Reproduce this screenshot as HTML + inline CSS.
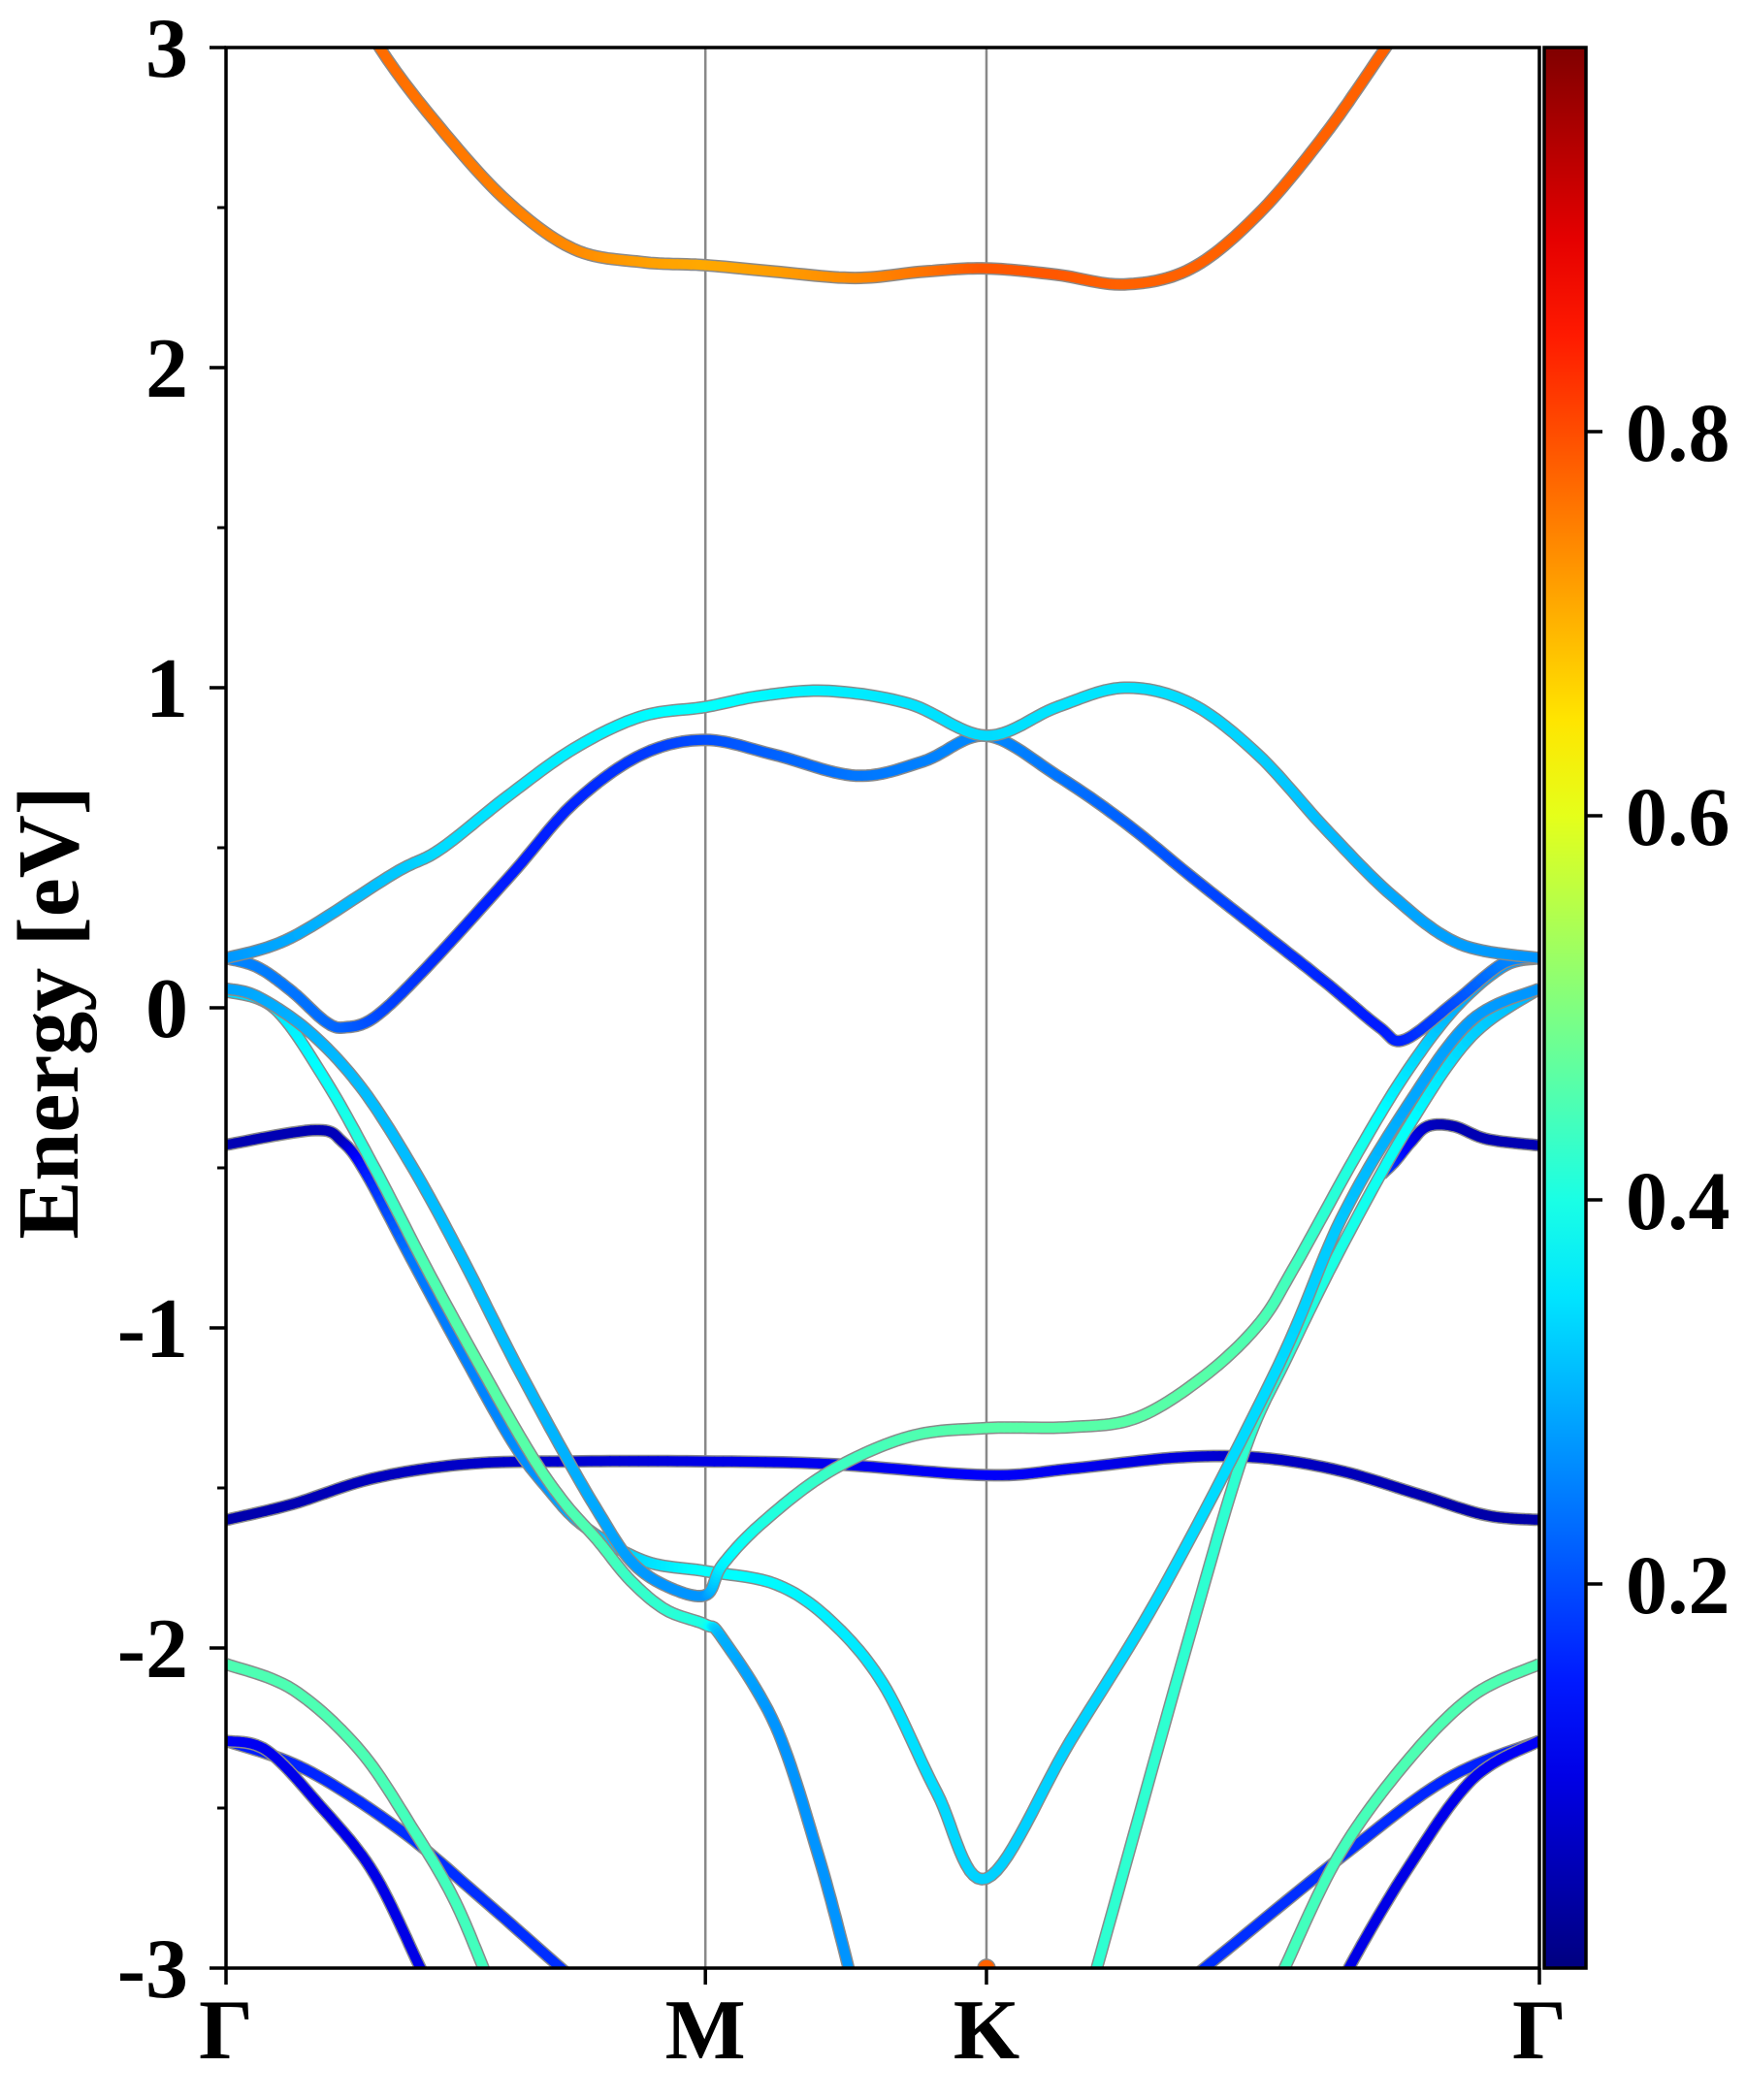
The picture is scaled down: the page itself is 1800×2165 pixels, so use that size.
<!DOCTYPE html>
<html><head><meta charset="utf-8"><style>
html,body{margin:0;padding:0;background:#fff}
svg text{font-family:"Liberation Serif",serif;font-weight:bold}
</style></head><body>
<svg id="chart" width="1800" height="2160" viewBox="0 0 1800 2160" xmlns="http://www.w3.org/2000/svg">
<defs>
<clipPath id="plotclip"><rect x="233" y="49" width="1354" height="1980"/></clipPath>
<linearGradient id="jetgrad" x1="0" y1="1" x2="0" y2="0"></linearGradient>
</defs>
<g id="bands" clip-path="url(#plotclip)"></g>
<g id="axes"></g>
</svg>
<script>
// k positions in percent of path length; energies in eV; weights 0..1
const kLabels = ["Γ","M","K","Γ"];
const kTicks = [0, 36.5, 57.9, 100];
const yTicks = [-3,-2,-1,0,1,2,3];
const cbTicks = [0.2,0.4,0.6,0.8];

const bandA_k = [8.2,11.7,16.3,21.4,26.5,31.6,36.5,41.8,47.9,53.1,57.9,63.3,68.4,73.5,78.6,83.7,88.3,91.8];
const bandA_E = [3.27,3.0,2.75,2.52,2.37,2.33,2.32,2.30,2.28,2.30,2.31,2.29,2.26,2.31,2.48,2.73,3.0,3.21];
const bandA_w = [0.77,0.77,0.76,0.75,0.74,0.72,0.71,0.72,0.74,0.76,0.79,0.79,0.78,0.78,0.78,0.78,0.78,0.78];

const bandB1_k = [0,5,12.8,16.3,21.4,26.5,31.6,36.5,40.8,45.9,52,57.9,63.3,68.4,73.5,78.6,83.7,88.8,93.9,100];
const bandB1_E = [0.155,0.22,0.42,0.495,0.66,0.81,0.91,0.94,0.975,0.99,0.95,0.85,0.94,1.0,0.95,0.79,0.56,0.35,0.20,0.155];
const bandB1_w = [0.27,0.29,0.32,0.34,0.35,0.36,0.37,0.38,0.37,0.36,0.35,0.34,0.35,0.35,0.34,0.33,0.31,0.29,0.28,0.27];

const bandB2_k = [0,2.4,5,7.6,9.1,11.4,15.3,21.8,26.5,31.6,36.5,41.8,48,53.1,57.9,63.3,68.4,73.5,78.6,83.7,87.8,89.7,93.6,97.3,100];
const bandB2_E = [0.155,0.127,0.052,-0.044,-0.061,-0.027,0.127,0.42,0.64,0.79,0.837,0.79,0.725,0.77,0.85,0.725,0.58,0.41,0.245,0.08,-0.06,-0.10,0.02,0.14,0.155];
const bandB2_w = [0.26,0.25,0.24,0.23,0.22,0.2,0.17,0.15,0.16,0.18,0.2,0.22,0.24,0.25,0.26,0.24,0.22,0.2,0.18,0.16,0.15,0.16,0.2,0.25,0.27];

const bandC1_k = [0,2.4,6.3,10.2,14.1,18,21.8,25.7,28.3,30.8,33.5,36.5,37.8,40.8,45.9,52,57.9,64.3,69.4,74.5,78.6,81.2,86.2,89.9,93.6,97.3,100];
const bandC1_E = [0.06,0.035,-0.073,-0.244,-0.491,-0.783,-1.092,-1.388,-1.572,-1.727,-1.806,-1.835,-1.74,-1.61,-1.45,-1.34,-1.313,-1.31,-1.28,-1.15,-0.99,-0.82,-0.45,-0.20,0.0,0.13,0.155];
const bandC1_w = [0.28,0.29,0.3,0.31,0.31,0.31,0.31,0.3,0.29,0.28,0.27,0.27,0.36,0.4,0.43,0.45,0.46,0.46,0.46,0.46,0.45,0.44,0.4,0.35,0.3,0.28,0.27];

const bandC2_k = [0,3.7,7.6,11.4,15.3,19.2,23.1,25.7,28.3,30.8,33.5,36.5,37.8,41.8,44.9,47.4,49];
const bandC2_E = [0.052,-0.002,-0.228,-0.507,-0.816,-1.109,-1.388,-1.543,-1.664,-1.789,-1.881,-1.927,-1.97,-2.24,-2.62,-3.0,-3.3];
const bandC2_w = [0.33,0.35,0.38,0.42,0.45,0.46,0.46,0.45,0.45,0.43,0.42,0.4,0.3,0.27,0.27,0.27,0.27];

const bandD_k = [0,6.8,8.9,10.7,14.1,18,21.8,24.4,27.2,31.8,36.5,41.8,45.9,50,54.1,57.9,64.3,71.4,80.1,84.9,89.9,94.8,100];
const bandD_E = [-0.428,-0.382,-0.42,-0.52,-0.783,-1.079,-1.355,-1.497,-1.618,-1.727,-1.76,-1.80,-1.91,-2.11,-2.45,-2.72,-2.29,-1.81,-1.12,-0.66,-0.31,-0.04,0.06];
const bandD_w = [0.05,0.05,0.06,0.15,0.24,0.25,0.26,0.27,0.3,0.34,0.38,0.37,0.36,0.35,0.34,0.33,0.33,0.34,0.34,0.32,0.29,0.28,0.27];

const bandD2_k = [100,96,93.5,91.5,90.2,89.0,88.0];
const bandD2_E = [-0.43,-0.41,-0.37,-0.37,-0.42,-0.48,-0.52];
const bandD2_w = [0.05,0.05,0.05,0.06,0.1,0.15,0.2];

const bandLb_k = [64,66.3,73.1,77.5,80.8,84.9,89.9,94.8,100];
const bandLb_E = [-3.33,-3.0,-2.0,-1.39,-1.09,-0.75,-0.38,-0.09,0.06];
const bandLb_w = [0.42,0.42,0.42,0.42,0.41,0.4,0.38,0.33,0.3];

const bandF_k = [0,5.1,11.2,18.4,26.5,36.5,45.9,57.9,64.3,72.4,78.6,84.7,90.8,95.9,100];
const bandF_E = [-1.60,-1.55,-1.47,-1.425,-1.417,-1.417,-1.425,-1.46,-1.44,-1.405,-1.405,-1.445,-1.52,-1.585,-1.60];
const bandF_w = [0.04,0.05,0.06,0.07,0.08,0.1,0.11,0.12,0.11,0.09,0.07,0.06,0.05,0.04,0.04];

const bandG1L_k = [0,5.1,10.2,14.3,17.3,19.6,21];
const bandG1L_E = [-2.05,-2.13,-2.32,-2.57,-2.78,-3.0,-3.15];
const bandG1L_w = [0.45,0.45,0.45,0.44,0.44,0.44,0.44];
const bandG1R_k = [100,94.9,89.8,84.7,80.6,79];
const bandG1R_E = [-2.05,-2.15,-2.36,-2.65,-3.0,-3.15];
const bandG1R_w = [0.45,0.45,0.45,0.44,0.44,0.44];

const bandG2L_k = [0,3.1,7.1,11.2,14.8,16];
const bandG2L_E = [-2.29,-2.32,-2.49,-2.70,-3.0,-3.1];
const bandG2L_w = [0.12,0.11,0.1,0.1,0.1,0.1];
const bandG2R_k = [100,94.9,89.8,85.5,84.5];
const bandG2R_E = [-2.29,-2.41,-2.70,-3.0,-3.1];
const bandG2R_w = [0.12,0.11,0.1,0.1,0.1];

const bandG3L_k = [0,6.1,13.3,19.4,25.5,27];
const bandG3L_E = [-2.29,-2.38,-2.57,-2.78,-3.0,-3.05];
const bandG3L_w = [0.15,0.16,0.17,0.17,0.17,0.17];
const bandG3R_k = [100,92.9,84.7,74.5,73];
const bandG3R_E = [-2.29,-2.41,-2.66,-3.0,-3.05];
const bandG3R_w = [0.15,0.16,0.17,0.17,0.17];

const dotK = [57.9, -3.0, 0.78];

const bands = [
  ["band-g3-left",bandG3L_k,bandG3L_E,bandG3L_w],["band-g3-right",bandG3R_k,bandG3R_E,bandG3R_w],
  ["band-g2-left",bandG2L_k,bandG2L_E,bandG2L_w],["band-g2-right",bandG2R_k,bandG2R_E,bandG2R_w],
  ["band-g1-left",bandG1L_k,bandG1L_E,bandG1L_w],["band-g1-right",bandG1R_k,bandG1R_E,bandG1R_w],
  ["band-flat-navy",bandF_k,bandF_E,bandF_w],
  ["band-d2",bandD2_k,bandD2_E,bandD2_w],
  ["band-lb",bandLb_k,bandLb_E,bandLb_w],
  ["band-d",bandD_k,bandD_E,bandD_w],
  ["band-c2",bandC2_k,bandC2_E,bandC2_w],
  ["band-c1",bandC1_k,bandC1_E,bandC1_w],
  ["band-b2",bandB2_k,bandB2_E,bandB2_w],
  ["band-b1",bandB1_k,bandB1_E,bandB1_w],
  ["band-conduction",bandA_k,bandA_E,bandA_w]
];

const X0=233, X1=1587, Y0=49, Y1=2029;
function xScale(k){ return X0 + (X1-X0)*k/100; }
function yScale(e){ return Y0 + (Y1-Y0)*(3-e)/6; }
function cbScale(v){ return Y1 - (Y1-Y0)*v; }

function jet(v){
  v=Math.max(0,Math.min(1,v));
  const f=(x)=>Math.max(0,Math.min(1,x));
  const r=f(1.5-Math.abs(4*v-3)), g=f(1.5-Math.abs(4*v-2)), b=f(1.5-Math.abs(4*v-1));
  return `rgb(${Math.round(r*255)},${Math.round(g*255)},${Math.round(b*255)})`;
}

const NS="http://www.w3.org/2000/svg";
const svg=document.getElementById('chart');
const gB=document.getElementById('bands');
const gA=document.getElementById('axes');
function mk(tag,attrs,parent){const e=document.createElementNS(NS,tag);for(const a in attrs)e.setAttribute(a,attrs[a]);(parent||svg).appendChild(e);return e;}

function sample(ks,es,ws){
  const P=ks.map((k,i)=>[xScale(k),yScale(es[i]),ws[i]]);
  const out=[];
  for(let i=0;i<P.length-1;i++){
    const p0=P[Math.max(0,i-1)],p1=P[i],p2=P[i+1],p3=P[Math.min(P.length-1,i+2)];
    const n=14;
    for(let s=0;s<n;s++){
      const t=s/n,t2=t*t,t3=t2*t;
      const c=(a,b,c_,d)=>0.5*((2*b)+(-a+c_)*t+(2*a-5*b+4*c_-d)*t2+(-a+3*b-3*c_+d)*t3);
      out.push([c(p0[0],p1[0],p2[0],p3[0]),c(p0[1],p1[1],p2[1],p3[1]),p1[2]+(p2[2]-p1[2])*t]);
    }
  }
  const L=P[P.length-1];out.push([L[0],L[1],L[2]]);
  return out;
}

kTicks.slice(1,3).forEach((k,i)=>{
  const l=mk('line',{x1:xScale(k),x2:xScale(k),y1:Y0,y2:Y1,stroke:'#888',"stroke-width":2.5},gB);
  
  
});

bands.forEach(([name,ks,es,ws])=>{
  const g=mk('g',{},gB);
  
  
  const pts=sample(ks,es,ws);
  const d=pts.map((p,i)=>(i?'L':'M')+p[0].toFixed(1)+' '+p[1].toFixed(1)).join(' ');
  mk('path',{d:d,fill:'none',stroke:'#8a8a8a','stroke-width':13,'stroke-linejoin':'round'},g);
  for(let i=0;i<pts.length-1;i++){
    mk('line',{x1:pts[i][0].toFixed(1),y1:pts[i][1].toFixed(1),x2:pts[i+1][0].toFixed(1),y2:pts[i+1][1].toFixed(1),stroke:jet((pts[i][2]+pts[i+1][2])/2),'stroke-width':10,'stroke-linecap':'round'},g);
  }
});
const dot=mk('circle',{cx:xScale(dotK[0]),cy:yScale(dotK[1]),r:9,fill:jet(dotK[2]),stroke:'#8a8a8a','stroke-width':1.5},gB);



const fr=mk('rect',{x:X0,y:Y0,width:X1-X0,height:Y1-Y0,fill:'none',stroke:'#000','stroke-width':3.5},gA);



yTicks.forEach(v=>{
  const y=yScale(v);
  mk('line',{x1:X0-17,x2:X0,y1:y,y2:y,stroke:'#000','stroke-width':3.5},gA);
  const t=mk('text',{x:194,y:y+30,'text-anchor':'end','font-size':88},gA);
  t.textContent=String(v);
  
  
});
for(let v=-2.5;v<3;v+=1){
  const y=yScale(v);
  mk('line',{x1:X0-9,x2:X0,y1:y,y2:y,stroke:'#000','stroke-width':3},gA);
}
kTicks.forEach((k,i)=>{
  const x=xScale(k);
  mk('line',{x1:x,x2:x,y1:Y1,y2:Y1+17,stroke:'#000','stroke-width':3.5},gA);
  const t=mk('text',{x:x,y:2122,'text-anchor':'middle','font-size':88},gA);
  t.textContent=kLabels[i];
  
  
});
const yt=mk('text',{x:0,y:0,'text-anchor':'middle','font-size':90,transform:'translate(80,1044) rotate(-90)'},gA);
yt.textContent='Energy [eV]';



const grad=document.getElementById('jetgrad');
for(let i=0;i<=20;i++){mk('stop',{offset:(i/20),'stop-color':jet(i/20)},grad);}
const cb=mk('rect',{x:1592,y:Y0,width:43,height:Y1-Y0,fill:'url(#jetgrad)',stroke:'#000','stroke-width':3.5},gA);


cbTicks.forEach(v=>{
  const y=cbScale(v);
  mk('line',{x1:1635,x2:1652,y1:y,y2:y,stroke:'#000','stroke-width':3.5},gA);
  const t=mk('text',{x:1676,y:y+30,'text-anchor':'start','font-size':86},gA);
  t.textContent=v.toFixed(1);
  
  
});
</script>
</body></html>
